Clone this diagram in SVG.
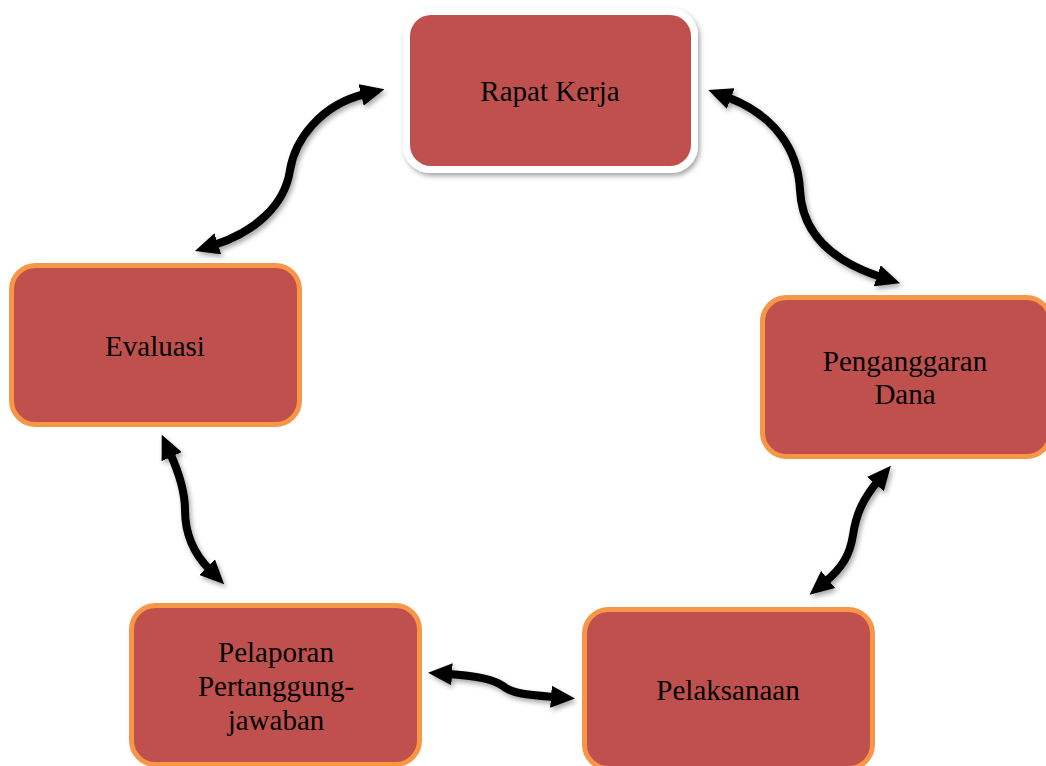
<svg xmlns="http://www.w3.org/2000/svg" width="1046" height="766" viewBox="0 0 1046 766">
<style>
.box{fill:#C0504D;stroke:#F79646;stroke-width:5}
.lbl{font-family:"Liberation Serif","Times New Roman",serif;font-size:29px;fill:#000;text-anchor:middle}
.conn{fill:none;stroke:#000;stroke-width:8;marker-start:url(#ah);marker-end:url(#ah)}
</style>
<defs>
<filter id="sh" x="-20%" y="-20%" width="140%" height="140%">
<feDropShadow dx="2" dy="3" stdDeviation="2.5" flood-color="#000" flood-opacity="0.35"/>
</filter>
<marker id="ah" viewBox="0 0 24 22" refX="4" refY="11" markerWidth="24" markerHeight="22" markerUnits="userSpaceOnUse" orient="auto-start-reverse">
<path d="M0,0 L24,11 L0,22 z" fill="#000"/>
</marker>
</defs>
<rect width="1046" height="766" fill="#fff"/>
<g id="connectors" filter="url(#sh)">
<path class="conn" d="M 365 94 C 320 105, 295 140, 290 170 C 285 205, 255 232, 214 245"/>
<path class="conn" d="M 727 97 C 775 115, 798 150, 800 190 C 802 235, 835 262, 881 277"/>
<path class="conn" d="M 878 481 C 862 500, 856 515, 853 535 C 850 555, 842 568, 825 582"/>
<path class="conn" d="M 448 674 C 480 676, 495 680, 503 686 C 512 694, 530 695, 555 697"/>
<path class="conn" d="M 170 453 C 180 475, 185 495, 185 510 C 185 535, 195 555, 210 570"/>
</g>
<g id="rapat-kerja">
<rect x="403" y="8" width="295" height="165" rx="27" fill="#fff" filter="url(#sh)"/>
<rect x="410" y="15" width="281" height="151" rx="21" fill="#C0504D"/>
<text class="lbl" x="550" y="101">Rapat Kerja</text>
</g>
<g id="evaluasi">
<rect class="box" x="11.5" y="265.5" width="288" height="159" rx="24"/>
<text class="lbl" x="155" y="356">Evaluasi</text>
</g>
<g id="penganggaran-dana">
<rect class="box" x="762.5" y="297.5" width="288" height="159" rx="24"/>
<text class="lbl" x="905" y="371">Penganggaran</text>
<text class="lbl" x="905" y="404">Dana</text>
</g>
<g id="pelaksanaan">
<rect class="box" x="584.5" y="609.5" width="288" height="159" rx="24"/>
<text class="lbl" x="728" y="700">Pelaksanaan</text>
</g>
<g id="pelaporan">
<rect class="box" x="131.5" y="605.5" width="288" height="159" rx="24"/>
<text class="lbl" x="276" y="662">Pelaporan</text>
<text class="lbl" x="276" y="696">Pertanggung-</text>
<text class="lbl" x="276" y="730">jawaban</text>
</g>
</svg>
